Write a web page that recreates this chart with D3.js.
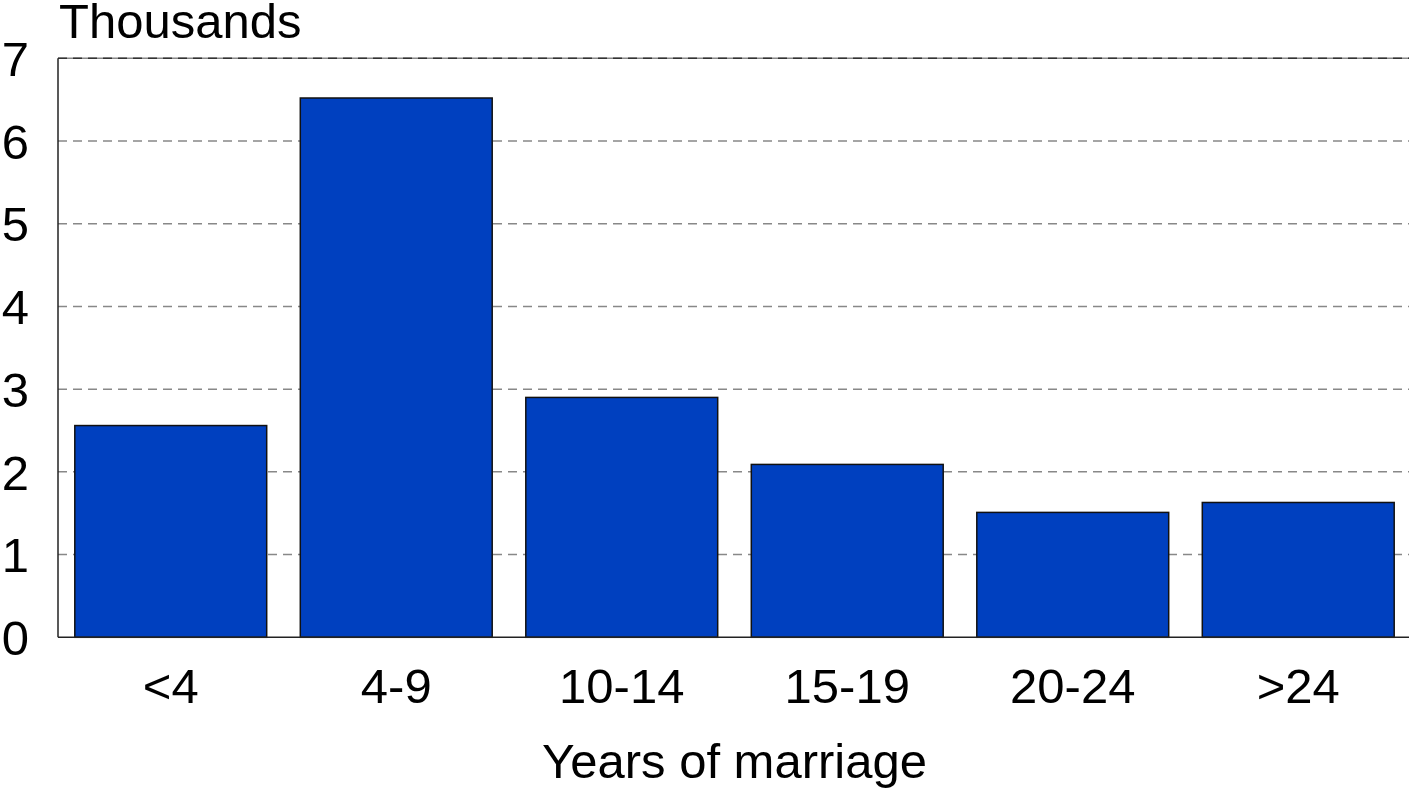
<!DOCTYPE html>
<html>
<head>
<meta charset="utf-8">
<script src="https://cdn.jsdelivr.net/npm/d3@7"></script>
<style>
  html, body { margin: 0; padding: 0; background: #fff; }
  svg { display: block; }
  text { font-family: "Liberation Sans", Arial, sans-serif; fill: #000; }
</style>
</head>
<body>
<svg id="chart" width="1409" height="788"></svg>
<script>
const categories = ["<4", "4-9", "10-14", "15-19", "20-24", ">24"];
const values = [2.56, 6.52, 2.90, 2.09, 1.51, 1.63];
const yTicks = [0, 1, 2, 3, 4, 5, 6, 7];
const yUnitLabel = "Thousands";
const xTitle = "Years of marriage";

(function () {
const svg = d3.select("#chart");
const mLeft = 58, mRight = 1411, mTop = 58.3, mBottom = 637.3;
const fs = 49;

const x = d3.scaleBand().domain(categories).range([mLeft, mRight])
  .paddingInner(0.149).paddingOuter(0.0745);
const y = d3.scaleLinear().domain([0, 7]).range([mBottom, mTop]);

// gridlines
const grid = svg.append("g");
grid.selectAll("line.g").data(yTicks.filter(d => d > 0 && d < 7)).join("line")
  .attr("x1", mLeft).attr("x2", 1409)
  .attr("y1", d => y(d)).attr("y2", d => y(d))
  .attr("stroke", "#888").attr("stroke-width", 1.5)
  .attr("stroke-dasharray", "9,6");
// top line: gray solid with darker dashes
grid.append("line")
  .attr("x1", mLeft).attr("x2", 1409)
  .attr("y1", y(7)).attr("y2", y(7))
  .attr("stroke", "#888").attr("stroke-width", 1.5);
grid.append("line")
  .attr("x1", mLeft).attr("x2", 1409)
  .attr("y1", y(7)).attr("y2", y(7))
  .attr("stroke", "#333").attr("stroke-width", 1.5)
  .attr("stroke-dasharray", "9,6");

// bars
svg.append("g").selectAll("rect").data(categories).join("rect")
  .attr("x", d => x(d))
  .attr("width", x.bandwidth())
  .attr("y", (d, i) => y(values[i]))
  .attr("height", (d, i) => y(0) - y(values[i]))
  .attr("fill", "#0040BF")
  .attr("stroke", "#111")
  .attr("stroke-width", 1.5);

// axes lines
svg.append("line").attr("x1", mLeft).attr("x2", mLeft)
  .attr("y1", mTop).attr("y2", mBottom)
  .attr("stroke", "#222").attr("stroke-width", 1.5);
svg.append("line").attr("x1", mLeft).attr("x2", 1409)
  .attr("y1", mBottom).attr("y2", mBottom)
  .attr("stroke", "#222").attr("stroke-width", 1.5);

// y tick labels
svg.append("g").selectAll("text").data(yTicks).join("text")
  .attr("x", 29)
  .attr("y", d => y(d))
  .attr("dy", "0.36em")
  .attr("text-anchor", "end")
  .attr("font-size", fs)
  .text(d => d);

// x tick labels
svg.append("g").selectAll("text").data(categories).join("text")
  .attr("x", d => x(d) + x.bandwidth() / 2)
  .attr("y", 703)
  .attr("text-anchor", "middle")
  .attr("font-size", fs)
  .text(d => d);

// unit label
svg.append("text").attr("x", 59).attr("y", 38)
  .attr("font-size", fs).text(yUnitLabel);

// x title
svg.append("text").attr("x", (mLeft + mRight) / 2).attr("y", 778)
  .attr("text-anchor", "middle")
  .attr("font-size", fs).text(xTitle);
})();
</script>
</body>
</html>
